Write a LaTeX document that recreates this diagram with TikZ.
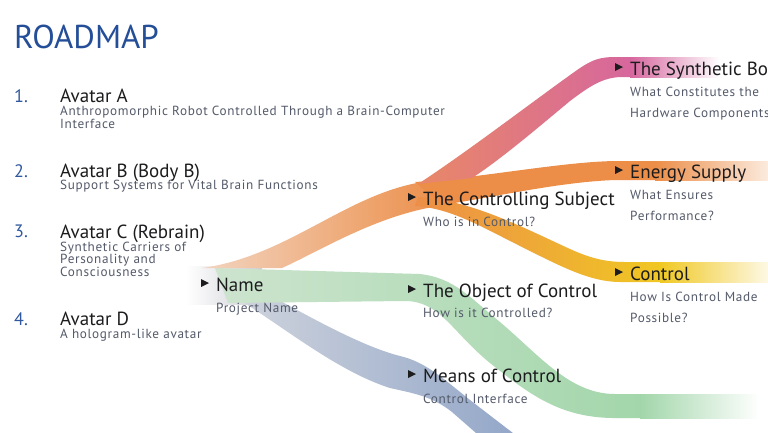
\documentclass[tikz,border=0pt]{standalone}
\usepackage{fontspec}
\setmainfont{PT Sans}
\newfontfamily\subfont[LetterSpace=5]{PT Sans}

\definecolor{roadblue}{RGB}{36,78,152}
\definecolor{numblue}{RGB}{48,88,158}
\definecolor{headtext}{RGB}{28,28,30}
\definecolor{subtext}{RGB}{84,90,106}
\definecolor{bandpeach}{RGB}{242,212,192}
\definecolor{bandorange}{RGB}{236,142,72}
\definecolor{bandpink}{RGB}{214,102,158}
\definecolor{bandpinklow}{RGB}{232,136,104}
\definecolor{bandyellow}{RGB}{240,200,34}
\definecolor{bandgreen}{RGB}{162,214,170}
\definecolor{bandgreenlow}{RGB}{205,228,206}
\definecolor{bandblue}{RGB}{146,166,200}
\definecolor{bandbluelow}{RGB}{205,210,220}
\definecolor{bandgrey}{RGB}{204,206,212}

\newcommand\arrowmark[1]{\fill[headtext] ([xshift=-7pt,yshift=8pt]#1.base west) -- ++(-8,-4) -- ++(0,8) -- cycle;}

\begin{document}
\begin{tikzpicture}[x=1pt,y=-1pt,
  head/.style={anchor=base west,inner sep=0pt,text=headtext,font=\fontsize{19}{19}\selectfont},
  sub/.style={anchor=base west,inner sep=0pt,text=subtext,align=left,font=\subfont\fontsize{13.2}{12.5}\selectfont},
  subwide/.style={sub,font=\subfont\fontsize{13.2}{21}\selectfont},
  num/.style={anchor=base west,inner sep=0pt,text=numblue,font=\fontsize{18}{18}\selectfont}]
\fill[white] (0,0) rectangle (768,432);
\useasboundingbox (0,0) rectangle (768,432);
\clip (0,0) rectangle (768,432);

% bands
\shade[left color=white,right color=bandgrey] (186,266) rectangle (262,304);
\shade[left color=bandbluelow,right color=bandblue] (245,281) .. controls (300,312) and (360,346) .. (400,356) .. controls (425,362) and (440,376) .. (470,400) -- (522,440) -- (484,440) -- (452,412) .. controls (432,396) and (412,393) .. (390,388) .. controls (340,372) and (290,332) .. (246,304) -- cycle;
\shade[left color=bandgreenlow,right color=bandgreen] (215,268) -- (420,274) .. controls (455,278) and (470,298) .. (500,322) .. controls (540,356) and (570,394) .. (615,394) -- (650,394) -- (650,418) -- (612,418) .. controls (560,417) and (530,395) .. (490,363) .. controls (452,332) and (440,301) .. (405,301) -- (228,303) -- cycle;
\shade[left color=bandgreen,right color=white] (640,394) rectangle (760,418);
\shade[left color=bandpeach,right color=bandorange] (202,268) .. controls (290,256) and (350,190) .. (430,181) -- (446,205) .. controls (380,213) and (322,250) .. (282,268) -- cycle;
\shade[left color=bandorange,right color=bandyellow] (418,197) .. controls (470,200) and (520,226) .. (570,249) .. controls (590,258) and (605,262) .. (625,262) -- (665,262) -- (665,282) -- (620,282) .. controls (590,282) and (560,266) .. (520,246) .. controls (480,226) and (450,208) .. (415,206) -- cycle;
\shade[left color=bandyellow,right color=bandyellow!12] (660,262) rectangle (768,282);
\fill[bandorange] (415,182) .. controls (480,178) and (560,162) .. (615,161) -- (660,161) -- (660,180) -- (615,180) .. controls (560,182) and (500,196) .. (442,205) -- cycle;
\shade[left color=bandorange,right color=bandorange!18] (655,161) rectangle (768,180);
\shade[left color=bandpinklow,right color=bandpink] (418,184) .. controls (470,150) and (540,96) .. (580,68) .. controls (592,60) and (600,57) .. (615,57) -- (635,57) -- (635,77) -- (620,77) .. controls (602,78) and (590,86) .. (570,101) .. controls (540,126) and (500,160) .. (472,178) -- cycle;
\shade[left color=bandpink,right color=white] (630,57) rectangle (720,77);

% list
\node[anchor=base west,inner sep=0pt,text=roadblue,font=\fontsize{33}{33}\selectfont] (title) at (14,48) {ROADMAP};
\node[num] (n1) at (14,102) {1.};
\node[head] (a1) at (60,102) {Avatar A};
\node[sub] (a1s) at (60,128) {Anthropomorphic Robot Controlled Through a Brain-Computer\\Interface};
\node[num] (n2) at (14,177) {2.};
\node[head] (a2) at (60,177) {Avatar B (Body B)};
\node[sub] (a2s) at (60,189) {Support Systems for Vital Brain Functions};
\node[num] (n3) at (14,237) {3.};
\node[head] (a3) at (60,238) {Avatar C (Rebrain)};
\node[sub] (a3s) at (60,276) {Synthetic Carriers of\\Personality and\\Consciousness};
\node[num] (n4) at (14,325) {4.};
\node[head] (a4) at (60,325) {Avatar D};
\node[sub] (a4s) at (60,338) {A hologram-like avatar};

% tree
\node[head] (name) at (216,291) {Name};
\node[sub] (names) at (216,312) {Project Name};
\node[head] (subject) at (423,205) {The Controlling Subject};
\node[sub] (subjects) at (423,226) {Who is in Control?};
\node[head] (object) at (423,297) {The Object of Control};
\node[sub] (objects) at (423,317) {How is it Controlled?};
\node[head] (means) at (423,382) {Means of Control};
\node[sub] (meanss) at (423,403) {Control Interface};
\node[head] (body) at (630,75) {The Synthetic Body};
\node[subwide] (bodys) at (630,117) {What Constitutes the\\Hardware Components?};
\node[head] (energy) at (630,178) {Energy Supply};
\node[subwide] (energys) at (630,220) {What Ensures\\Performance?};
\node[head] (control) at (630,280) {Control};
\node[subwide] (controls) at (630,322) {How Is Control Made\\Possible?};
\foreach \n in {name,subject,object,means,body,energy,control} {\arrowmark{\n}}
\end{tikzpicture}
\end{document}
